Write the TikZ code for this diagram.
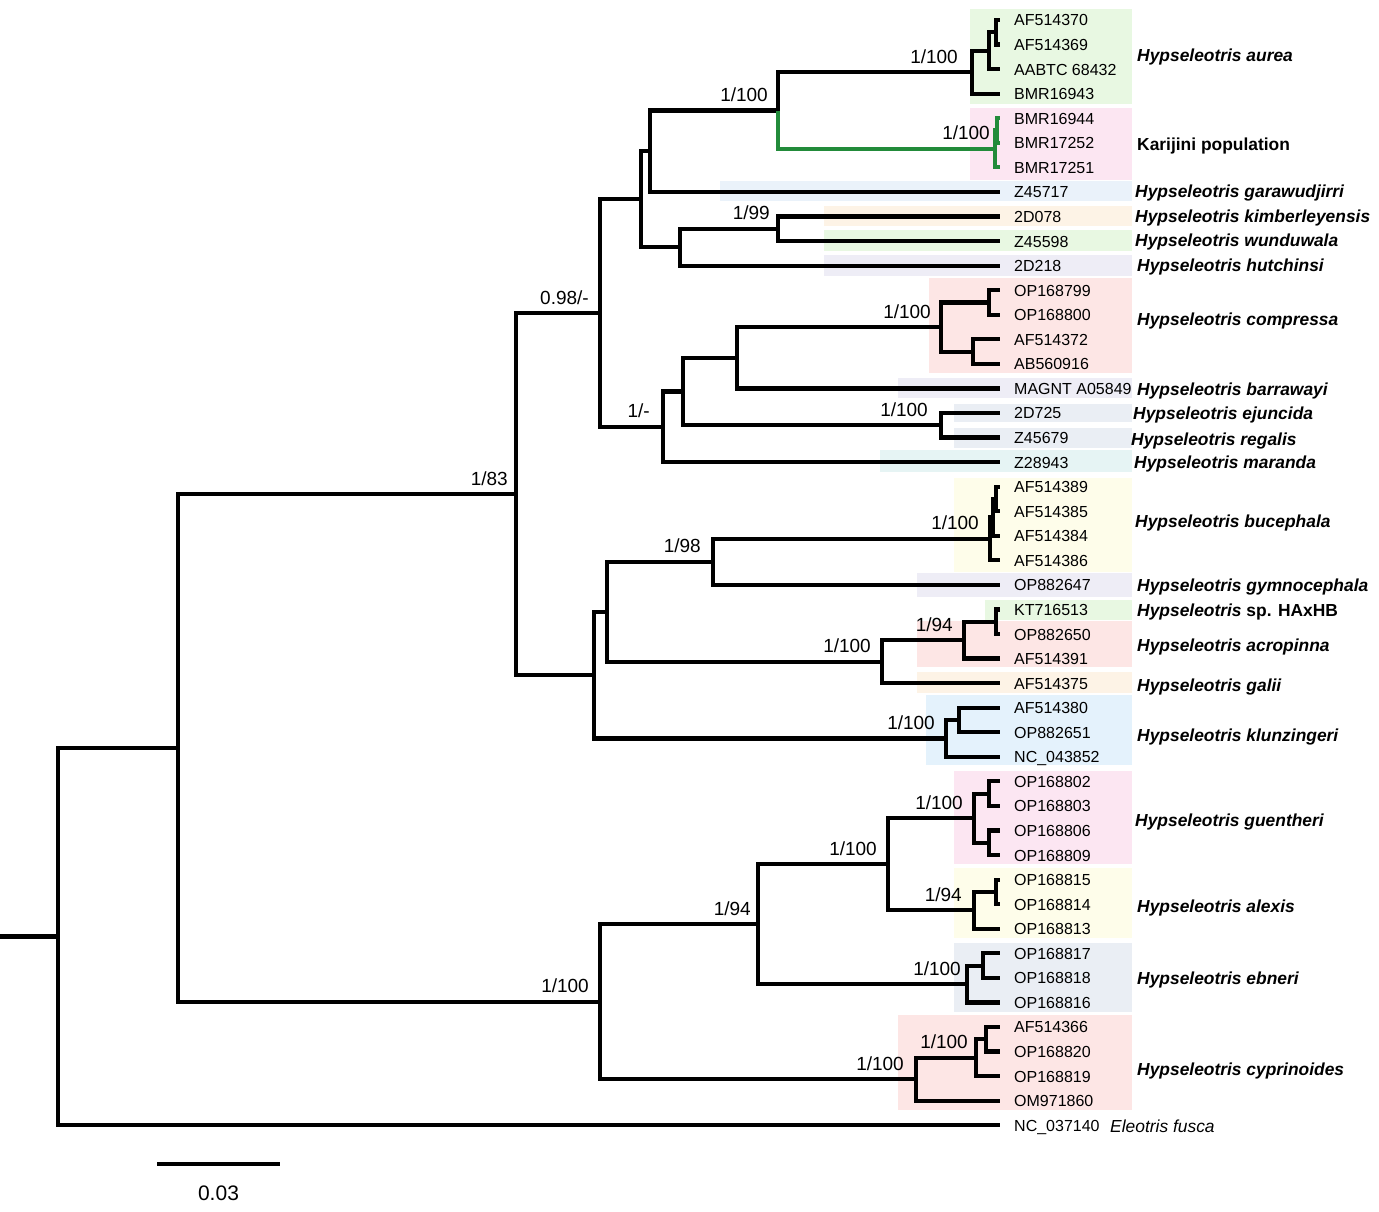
\documentclass[tikz,border=0pt]{standalone}
\usepackage{fontspec}
\setmainfont{Liberation Sans}
\usetikzlibrary{calc}

\definecolor{boxgreen}{RGB}{232,248,226}
\definecolor{boxpink}{RGB}{252,230,242}
\definecolor{boxblue}{RGB}{234,242,250}
\definecolor{boxpeach}{RGB}{253,243,230}
\definecolor{boxlav}{RGB}{238,237,246}
\definecolor{boxred}{RGB}{253,230,229}
\definecolor{boxgrey}{RGB}{234,238,244}
\definecolor{boxteal}{RGB}{230,244,244}
\definecolor{boxyellow}{RGB}{254,253,234}
\definecolor{boxsky}{RGB}{228,242,252}
\definecolor{karigreen}{RGB}{34,139,58}

\tikzset{
	branch/.style = {line width = 4.2pt},
	karibranch/.style = {branch, draw = karigreen},
	leaflab/.style = {anchor = base west, inner sep = 0pt, font = \fontsize{16}{18}\selectfont},
	taxon/.style = {anchor = base west, inner sep = 0pt, font = \fontsize{17.4}{19}\selectfont\bfseries\itshape},
	support/.style = {anchor = base east, inner sep = 0pt, font = \fontsize{19}{21}\selectfont}
}

\begin{document}
\begin{tikzpicture}[x = 1pt, y = -1pt]
	\useasboundingbox (0, 0) rectangle (1379, 1212);

	% coloured boxes behind the tip labels
	\foreach \xa/\ya/\yb/\col in {970/9/104/boxgreen, 970/108/180/boxpink, 720/181/201/boxblue,
		824/206/226/boxpeach, 824/230/251/boxgreen, 824/255/276/boxlav, 929/278/373/boxred,
		898/378/398/boxlav, 954/404/422/boxgrey, 954/428/448/boxgrey, 880/450/472/boxteal,
		954/478/572/boxyellow, 917/573/597/boxlav, 985/600/620/boxgreen, 917/621/667/boxred,
		917/672/693/boxpeach, 926/695/765/boxsky, 954/771/864/boxpink, 954/868/938/boxyellow,
		954/943/1012/boxgrey, 898/1015/1110/boxred}
		\fill[\col] (\xa, \ya) rectangle (1132, \yb);

	% tips and their labels
	\foreach \lab [count = \i] in {AF514370, AF514369, AABTC 68432, BMR16943, BMR16944, BMR17252,
		BMR17251, Z45717, 2D078, Z45598, 2D218, OP168799, OP168800, AF514372, AB560916,
		MAGNT A05849, 2D725, Z45679, Z28943, AF514389, AF514385, AF514384, AF514386, OP882647,
		KT716513, OP882650, AF514391, AF514375, AF514380, OP882651, NC\_043852, OP168802,
		OP168803, OP168806, OP168809, OP168815, OP168814, OP168813, OP168817, OP168818,
		OP168816, AF514366, OP168820, OP168819, OM971860, NC\_037140}
	{
		\coordinate (l\i) at (1000, {20 + (\i - 1) * 24.56});
		\node[leaflab] (t\i) at (1014, {26 + (\i - 1) * 24.56}) {\lab};
	}

	% internal nodes
	\coordinate (root) at (0, 936.5);
	\coordinate (n58) at (58, 936.5);
	\coordinate (n178) at (178, 747.8);
	\coordinate (n516) at (516, 494.0);
	\coordinate (n600u) at (600, 313.0);
	\coordinate (n641) at (641, 199.2);
	\coordinate (n650) at (650, 151.2);
	\coordinate (n778) at (778, 110.6);
	\coordinate (a1) at (972, 72.2);
	\coordinate (a2) at (989, 50.7);
	\coordinate (a3) at (996, 32.3);
	\coordinate (k1) at (995, 148.9);
	\coordinate (k2) at (997, 130.5);
	\coordinate (n680) at (680, 247.2);
	\coordinate (kw) at (778, 228.8);
	\coordinate (n663) at (663, 426.8);
	\coordinate (n683) at (683, 391.5);
	\coordinate (n737) at (737, 357.7);
	\coordinate (c1) at (941, 327.0);
	\coordinate (c2) at (989, 302.4);
	\coordinate (c3) at (973, 351.6);
	\coordinate (er) at (941, 425.2);
	\coordinate (n594) at (594, 675.1);
	\coordinate (n607) at (607, 611.8);
	\coordinate (n713) at (713, 561.9);
	\coordinate (b1) at (990, 538.8);
	\coordinate (b2) at (993, 517.3);
	\coordinate (b3) at (996, 498.9);
	\coordinate (n882) at (882, 661.6);
	\coordinate (ac1) at (964, 640.1);
	\coordinate (ac2) at (996, 621.7);
	\coordinate (kl1) at (946, 738.4);
	\coordinate (kl2) at (959, 720.0);
	\coordinate (n600l) at (600, 1001.6);
	\coordinate (n758) at (758, 924.1);
	\coordinate (n888) at (888, 864.3);
	\coordinate (g1) at (974, 818.2);
	\coordinate (g2) at (989, 793.6);
	\coordinate (g3) at (989, 842.8);
	\coordinate (al1) at (974, 910.3);
	\coordinate (al2) at (996, 891.9);
	\coordinate (e1) at (967, 984.0);
	\coordinate (e2) at (983, 965.6);
	\coordinate (cy1) at (916, 1079.2);
	\coordinate (cy2) at (976, 1057.7);
	\coordinate (cy3) at (986, 1039.2);

	% branches
	\draw[branch] (root) -- (n58);
	\foreach \p/\c in {n58/n178, n58/l46, n178/n516, n178/n600l, n516/n600u, n516/n594,
		n600u/n641, n600u/n663, n641/n650, n641/n680, n650/n778, n650/l8, n778/a1,
		a1/a2, a1/l4, a2/a3, a2/l3, a3/l1, a3/l2, n680/kw, n680/l11, kw/l9, kw/l10,
		n663/n683, n663/l19, n683/n737, n683/er, n737/c1, n737/l16, c1/c2, c1/c3,
		c2/l12, c2/l13, c3/l14, c3/l15, er/l17, er/l18,
		n594/n607, n594/kl1, n607/n713, n607/n882, n713/b1, n713/l24, b1/b2, b1/l23,
		b2/b3, b2/l22, b3/l20, b3/l21, n882/ac1, n882/l28, ac1/ac2, ac1/l27, ac2/l25,
		ac2/l26, kl1/kl2, kl1/l31, kl2/l29, kl2/l30,
		n600l/n758, n600l/cy1, n758/n888, n758/e1, n888/g1, n888/al1, g1/g2, g1/g3,
		g2/l32, g2/l33, g3/l34, g3/l35, al1/al2, al1/l38, al2/l36, al2/l37, e1/e2,
		e1/l41, e2/l39, e2/l40, cy1/cy2, cy1/l45, cy2/cy3, cy2/l44, cy3/l42, cy3/l43}
		\draw[branch] (\p) |- (\c);
	\foreach \p/\c in {n778/k1, k1/k2, k1/l7, k2/l5, k2/l6}
		\draw[karibranch] (\p) |- (\c);

	% support values
	\foreach \n/\dx/\val [count = \k] in {a1/14/1\slash 100, n778/10/1\slash 100, k1/5/1\slash 100,
		kw/8/1\slash 99, n600u/11/0.98\slash -, c1/10/1\slash 100, er/13/1\slash 100,
		n663/13/1\slash -, n516/8/1\slash 83, b1/11/1\slash 100, n713/12/1\slash 98,
		ac1/11/1\slash 94, n882/11/1\slash 100, kl1/11/1\slash 100, g1/11/1\slash 100,
		n888/11/1\slash 100, al1/12/1\slash 94, n758/7/1\slash 94, e1/6/1\slash 100,
		n600l/11/1\slash 100, cy1/12/1\slash 100, cy2/8/1\slash 100}
		\node[support] (v\k) at ($(\n) + (-\dx, -9)$) {\val};

	% species names
	\foreach \xx/\yy/\name [count = \k] in {1137/56/Hypseleotris aurea,
		1135/191/Hypseleotris garawudjirri, 1135/216/Hypseleotris kimberleyensis,
		1135/240/Hypseleotris wunduwala, 1137/265/Hypseleotris hutchinsi,
		1137/319/Hypseleotris compressa, 1137/389/Hypseleotris barrawayi,
		1133/413/Hypseleotris ejuncida, 1131/439/Hypseleotris regalis,
		1134/462/Hypseleotris maranda, 1135/521/Hypseleotris bucephala,
		1137/585/Hypseleotris gymnocephala, 1137/645/Hypseleotris acropinna,
		1137/685/Hypseleotris galii, 1137/735/Hypseleotris klunzingeri,
		1135/820/Hypseleotris guentheri, 1137/906/Hypseleotris alexis,
		1137/978/Hypseleotris ebneri, 1137/1069/Hypseleotris cyprinoides}
		\node[taxon] (s\k) at (\xx, \yy + 6) {\name};
	\node[taxon, font = \fontsize{17.4}{19}\selectfont\bfseries] (kari) at (1137, 151) {Karijini population};
	\node[taxon] (haxhb) at (1137, 616) {Hypseleotris \upshape sp. HAxHB};
	\node[taxon, font = \fontsize{17.4}{19}\selectfont\itshape] (fusca) at (1110, 1132) {Eleotris fusca};

	% scale bar
	\coordinate (sb1) at (157, 1164);
	\coordinate (sb2) at (280, 1164);
	\draw[branch] (sb1) -- (sb2);
	\node[anchor = base, inner sep = 0pt, font = \fontsize{21}{23}\selectfont] (sblab) at (218.5, 1200) {0.03};
\end{tikzpicture}
\end{document}
